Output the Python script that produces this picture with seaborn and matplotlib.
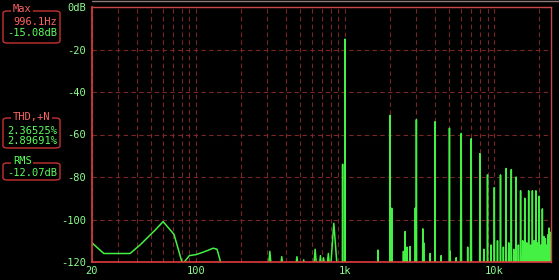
import numpy as np
import pandas as pd
import matplotlib
matplotlib.use("Agg")
import matplotlib.pyplot as plt
from matplotlib.patches import FancyBboxPatch
from matplotlib.lines import Line2D
import seaborn as sns

# ---------------- data ----------------
noise_freq = [20, 24, 36, 42, 53, 60, 71, 81, 90, 100, 110, 120, 130, 138, 147]
noise_db = [-111, -116, -116, -112, -105, -101, -107, -121, -117, -116.5, -115.5, -114.5, -113.5, -114, -121]

bump_freq = [312, 375, 474, 526, 628, 682, 715, 770]
bump_db = [-115, -117.5, -117.5, -119, -114, -117, -118, -116]

broad_freq = [838]
broad_db = [-101.8]

tone_freq = [960, 996.1]
tone_db = [-74, -15.08]

harm_freq = [2000, 3000, 4000, 5000, 6000, 7000, 8000, 9000, 10000, 11000, 12000,
             13000, 14000, 15000, 16000, 17000, 18000, 19000, 20000, 21000, 22000, 23000]
harm_db = [-51, -53, -54, -57, -59.5, -62, -69, -79, -85, -79, -76,
           -76.5, -80, -86.5, -90, -86.5, -86.5, -86.5, -89, -95, -109, -107]

spur_freq = [1660, 2050, 2456, 2520, 2600, 2725, 2950, 3312, 3360, 3708, 4400,
             5058, 5545, 5950, 6625, 6940, 8036]
spur_db = [-114.4, -94.7, -115, -105.7, -113, -112.7, -94.6, -104.4, -111, -116, -117,
           -115, -118, -98, -113, -100, -115]

floor_freq = [8500, 9500, 10500, 11500, 12500, 13500, 14500, 15500, 16500, 17500,
              18500, 19500, 20500, 21500, 22500, 23300, 23700]
floor_db = [-114, -112, -110, -113, -111, -114, -112, -110, -111, -112,
            -110, -111, -112, -108, -112, -104, -106]

ytick_vals = [0, -20, -40, -60, -80, -100, -120]
ytick_labels = ["0dB", "-20", "-40", "-60", "-80", "-100", "-120"]
xtick_vals = [20, 100, 1000, 10000]
xtick_labels = ["20", "100", "1k", "10k"]
xgrid_vals = [30, 40, 50, 60, 70, 80, 90, 100, 200, 300, 400, 500, 600, 700, 800, 900,
              1000, 2000, 3000, 4000, 5000, 6000, 7000, 8000, 9000, 10000, 20000]

max_lines = ["996.1Hz", "-15.08dB"]
thd_lines = ["2.36525%", "2.89691%"]
rms_lines = ["-12.07dB"]

FLOOR = -125

# ---------------- build the spectrum polyline ----------------
def spikes(freqs, dbs, half):
    pts = []
    for f, d in zip(freqs, dbs):
        pts += [(f / half, FLOOR), (f, d), (f * half, FLOOR)]
    return pts

pts = list(zip(noise_freq, noise_db))
pts += spikes(bump_freq, bump_db, 1.03)
pts += spikes(broad_freq, broad_db, 1.06)
pts += spikes(tone_freq, tone_db, 1.004)
pts += spikes(harm_freq, harm_db, 1.004)
pts += spikes(spur_freq, spur_db, 1.004)
pts += spikes(floor_freq, floor_db, 1.006)
pts.sort(key=lambda p: p[0])
df = pd.DataFrame(pts, columns=["freq", "db"])

# ---------------- styling ----------------
sns.set_style("dark", {"axes.facecolor": "black", "figure.facecolor": "black"})
plt.rcParams["font.family"] = ["DejaVu Sans Mono", "DejaVu Sans"]

W, H = 559, 280
fig = plt.figure(figsize=(W / 100, H / 100), dpi=100)
fig.patch.set_facecolor("black")
L, R, T, B = 92, 551, 7, 262
ax = fig.add_axes([L / W, 1 - B / H, (R - L) / W, (B - T) / H])
ax.set_facecolor("black")
ax.set_xscale("log")

sns.lineplot(data=df, x="freq", y="db", sort=False, estimator=None,
             color="#44f044", lw=1.1, ax=ax)

ax.set_xlim(20, 24000)
ax.set_ylim(-120, 0)
ax.set_xlabel("")
ax.set_ylabel("")

grid_col = "#7a2626"
ax.set_xticks(xtick_vals)
ax.set_xticklabels(xtick_labels)
ax.set_xticks(xgrid_vals, minor=True)
ax.set_yticks(ytick_vals)
ax.set_yticklabels(ytick_labels)
ax.xaxis.grid(True, which="both", color=grid_col, ls=(0, (4, 3)), lw=0.8)
ax.yaxis.grid(True, which="major", color=grid_col, ls=(0, (4, 3)), lw=0.8)
ax.tick_params(axis="x", which="both", length=0, pad=3, labelsize=7.5, labelcolor="#8cff8c")
ax.tick_params(axis="y", which="major", length=2, color="#e04040", pad=2,
               labelsize=7.5, labelcolor="#8cff8c")
ax.set_axisbelow(True)
for side in ["left", "bottom"]:
    ax.spines[side].set_color("#e03c3c")
    ax.spines[side].set_linewidth(1.2)
for side in ["top", "right"]:
    ax.spines[side].set_color("#c84848")
    ax.spines[side].set_linewidth(1.0)
for s in ax.spines.values():
    s.set_zorder(5)

# thin grey frame line at very top
fig.add_artist(Line2D([L / W, 1], [1 - 0.6 / H] * 2, color="#8a7a7a", lw=1.0,
                      transform=fig.transFigure))

# ---------------- left info boxes ----------------
def fx(x):
    return x / W

def fy(y):
    return 1 - y / H

box_col = "#c83232"
pink = "#ff6464"
green = "#5cff5c"

def info_box(top, bottom, title, title_col, lines, line_cols, line_ys):
    fig.add_artist(FancyBboxPatch((fx(3), fy(bottom)), fx(60) - fx(3), fy(top) - fy(bottom),
                                  boxstyle="round,pad=0,rounding_size=0.008",
                                  transform=fig.transFigure, fill=False,
                                  ec=box_col, lw=1.0))
    fig.text(fx(13), fy(top - 1.5), title, color=title_col, fontsize=7.5,
             ha="left", va="center",
             bbox=dict(facecolor="black", edgecolor="none", pad=1.2))
    for txt, c, yy in zip(lines, line_cols, line_ys):
        fig.text(fx(57.5), fy(yy), txt, color=c, fontsize=7.5, ha="right", va="center")

info_box(11, 43, "Max", pink, max_lines, [pink, green], [22, 33.5])
info_box(118, 148, "THD,+N", pink, thd_lines, [green, green], [131.5, 141.5])
info_box(163, 180, "RMS", green, rms_lines, [green], [173])

fig.savefig("out.png", dpi=100, facecolor="black")
